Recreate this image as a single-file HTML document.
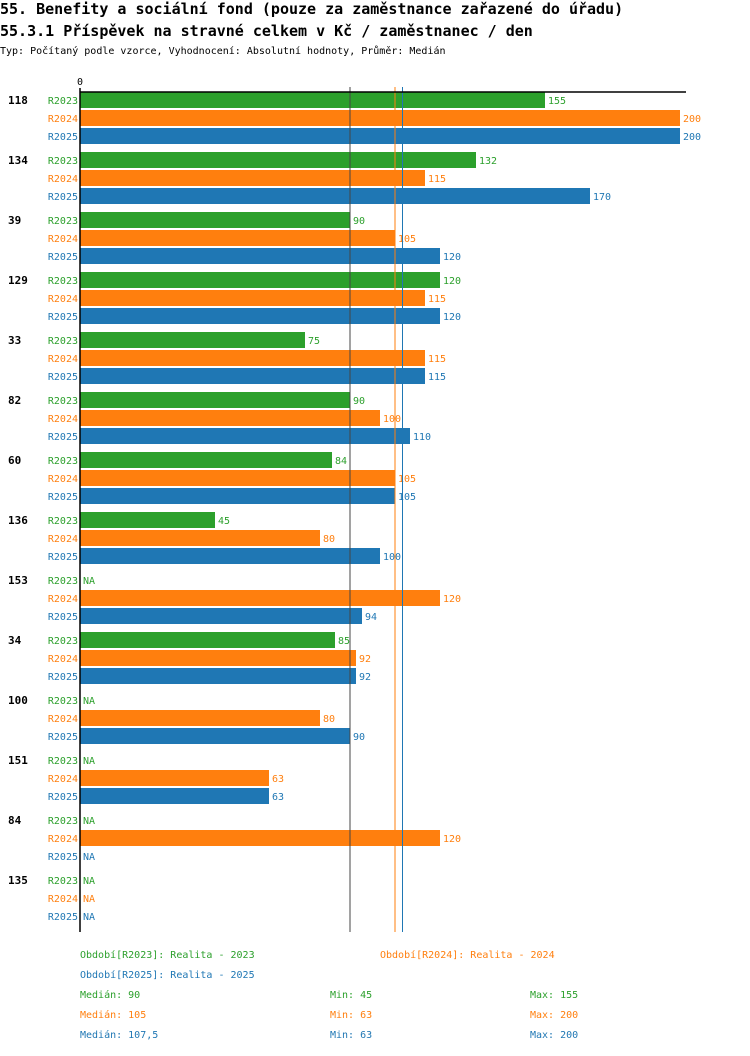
<!DOCTYPE html>
<html><head><meta charset="utf-8">
<style>
body{margin:0;background:#fff;width:750px;height:1052px;overflow:hidden;font-family:"DejaVu Sans Mono","Liberation Mono",monospace}
svg text{font-family:"DejaVu Sans Mono","Liberation Mono",monospace}
</style></head><body>
<svg id="c" width="750" height="1052">
<text x="0" y="14" font-size="15" font-weight="bold">55. Benefity a sociální fond (pouze za zaměstnance zařazené do úřadu)</text>
<text x="0" y="36" font-size="15" font-weight="bold">55.3.1 Příspěvek na stravné celkem v Kč / zaměstnanec / den</text>
<text x="0" y="54" font-size="10">Typ: Počítaný podle vzorce, Vyhodnocení: Absolutní hodnoty, Průměr: Medián</text>
<text x="80" y="85" font-size="10" text-anchor="middle">0</text>
<g id="bars"></g>
<g id="lines"></g>
<line x1="80" y1="92" x2="686" y2="92" stroke="#000" stroke-width="1.5"/>
<line x1="80" y1="88" x2="80" y2="932" stroke="#000" stroke-width="1.5"/>
<g font-size="10">
<text x="80" y="958" fill="#2ca02c">Období[R2023]: Realita - 2023</text>
<text x="380" y="958" fill="#ff7f0e">Období[R2024]: Realita - 2024</text>
<text x="80" y="978" fill="#1f77b4">Období[R2025]: Realita - 2025</text>
<text x="80" y="998" fill="#2ca02c">Medián: 90</text>
<text x="330" y="998" fill="#2ca02c">Min: 45</text>
<text x="530" y="998" fill="#2ca02c">Max: 155</text>
<text x="80" y="1018" fill="#ff7f0e">Medián: 105</text>
<text x="330" y="1018" fill="#ff7f0e">Min: 63</text>
<text x="530" y="1018" fill="#ff7f0e">Max: 200</text>
<text x="80" y="1038" fill="#1f77b4">Medián: 107,5</text>
<text x="330" y="1038" fill="#1f77b4">Min: 63</text>
<text x="530" y="1038" fill="#1f77b4">Max: 200</text>
</g>
</svg>
<script>
const categories=["118","134","39","129","33","82","60","136","153","34","100","151","84","135"];
const seriesNames=["R2023","R2024","R2025"];
const r2023=[155,132,90,120,75,90,84,45,null,85,null,null,null,null];
const r2024=[200,115,105,115,115,100,105,80,120,92,80,63,120,null];
const r2025=[200,170,120,120,115,110,105,100,94,92,90,63,null,null];
const medians=[90,105,107.5];
const colors=["#2ca02c","#ff7f0e","#1f77b4"];
const NS="http://www.w3.org/2000/svg";
const x=v=>80+v*3;
const yc=(i,s)=>100+i*60+s*18;
const g=document.getElementById('bars');
function mk(t,a,p){const e=document.createElementNS(NS,t);for(const k in a)e.setAttribute(k,a[k]);(p||g).appendChild(e);return e;}
const data=[r2023,r2024,r2025];
categories.forEach((c,i)=>{
  const cl=mk('text',{x:8,y:yc(i,0)+4,'font-size':11,'font-weight':'bold'});
  cl.textContent=c;
  
  
  data.forEach((arr,s)=>{
    const y=yc(i,s);
    const sl=mk('text',{x:78,y:y+4,'font-size':10,'text-anchor':'end',fill:colors[s]});
    sl.textContent=seriesNames[s];
    
    
    const v=arr[i];
    if(v!==null){
      const r=mk('rect',{x:80,y:y-8,width:x(v)-80,height:16,fill:colors[s]});
      
      
    }
    const vl=mk('text',{x:(v===null?80:x(v))+3,y:y+4,'font-size':10,fill:colors[s]});
    vl.textContent=v===null?'NA':String(v);
    
    
  });
});
const lg=document.getElementById('lines');
medians.forEach((m,s)=>{
  const l=mk('line',{x1:x(m),x2:x(m),y1:87,y2:932,stroke:s===0?'#444':colors[s],'stroke-width':1},lg);
  
  
});
</script>
</body></html>
